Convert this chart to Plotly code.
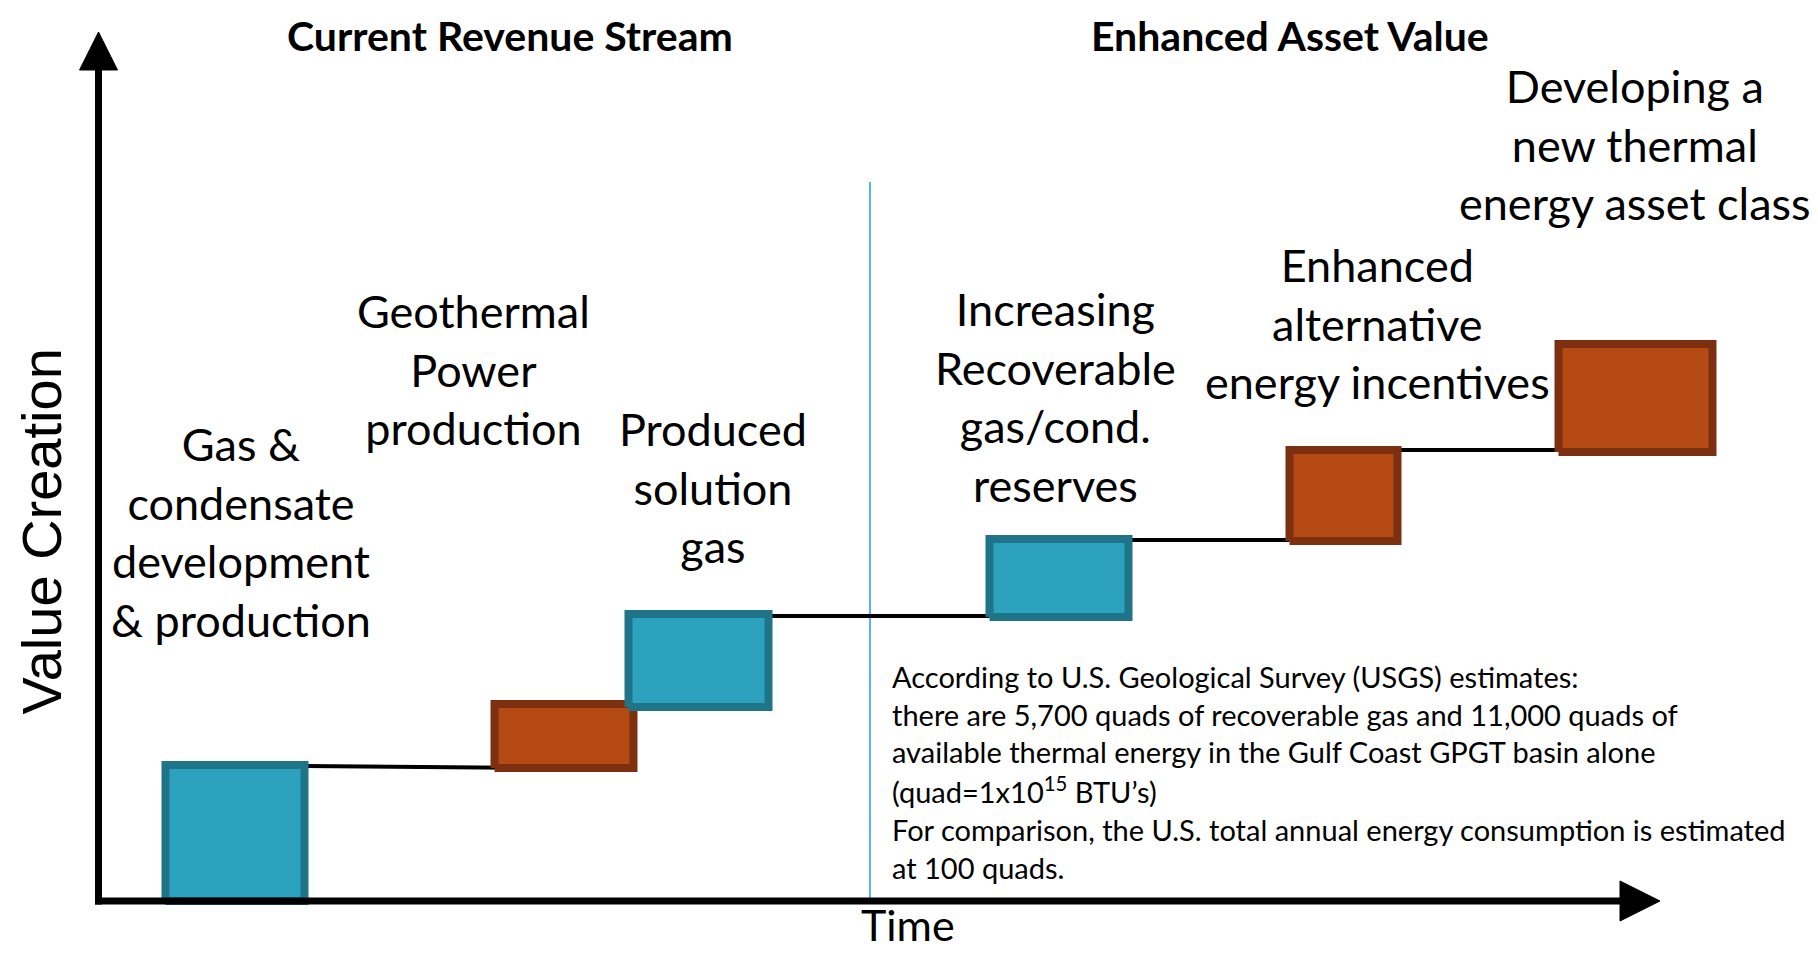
import plotly.graph_objects as go

# ---- data (x = time units, y = value units; origin at axes corner) ----
box_labels = ["Gas & condensate", "Geothermal power", "Produced solution gas",
              "Recoverable reserves", "Alt. energy incentives", "Thermal asset class"]
box_x0 = [67, 396, 530, 891, 1191, 1460]
box_x1 = [206, 535, 670, 1030, 1299, 1614]
box_y0 = [0, 133, 194, 284, 360, 449]
box_y1 = [136, 197, 287, 362, 451, 557]
box_kind = ["blue", "orange", "blue", "blue", "orange", "orange"]

conn_x0 = [206, 670, 1030, 1299]
conn_x1 = [535, 891, 1191, 1460]
conn_y0 = [135, 285, 361, 451]
conn_y1 = [132, 285, 361, 451]

label_texts = [
    "Gas &<br>condensate<br>development<br>& production",
    "Geothermal<br>Power<br>production",
    "Produced<br>solution<br>gas",
    "Increasing<br>Recoverable<br>gas/cond.<br>reserves",
    "Enhanced<br>alternative<br>energy incentives",
    "Developing a<br>new thermal<br>energy asset class",
]
label_x = [142.5, 374.5, 614.5, 956.5, 1278.5, 1536.5]
label_y = [369, 532, 414, 504, 577.5, 757]

note_lines = [
    "According to U.S. Geological Survey (USGS) estimates:",
    "there are 5,700 quads of recoverable gas and 11,000 quads of",
    "available thermal energy in the Gulf Coast GPGT basin alone",
    "(quad=1x10<sup>15</sup> BTU\u2019s)",
    "For comparison, the U.S. total annual energy consumption is estimated",
    "at 100 quads.",
]
note_x = 791.5
note_y = [225, 187, 150, 111, 72, 34]

section_titles = ["Current Revenue Stream", "Enhanced Asset Value"]
section_x = [411.5, 1191.5]
section_y = 866

divider_x = 771.5
divider_top = 719
y_axis_top = 869
x_axis_end = 1561.5

FILL = {"blue": "#2CA2BF", "orange": "#B54A15"}
EDGE = {"blue": "#1F7489", "orange": "#7D3010"}
FONT = "Lato, 'Open Sans', sans-serif"

fig = go.Figure()

# connectors
for a, b, c, d in zip(conn_x0, conn_x1, conn_y0, conn_y1):
    fig.add_trace(go.Scatter(x=[a, b], y=[c, d], mode="lines",
                             line=dict(color="black", width=4),
                             hoverinfo="skip", showlegend=False))

# boxes
for name, a, b, c, d, k in zip(box_labels, box_x0, box_x1, box_y0, box_y1, box_kind):
    fig.add_trace(go.Scatter(x=[a, b, b, a, a], y=[c, c, d, d, c], mode="lines",
                             fill="toself", fillcolor=FILL[k],
                             line=dict(color=EDGE[k], width=8),
                             name=name, showlegend=False))

shapes = []
# divider
shapes.append(dict(type="line", x0=divider_x, x1=divider_x, y0=0, y1=divider_top,
                   line=dict(color="#18A4D8", width=1.5), layer="below"))
# axes
shapes.append(dict(type="line", x0=0, x1=0, y0=-3.5, y1=y_axis_top - 36,
                   line=dict(color="black", width=7)))
shapes.append(dict(type="line", x0=-3.5, x1=x_axis_end - 38, y0=0, y1=0,
                   line=dict(color="black", width=7)))
shapes.append(dict(type="path",
                   path=f"M -19 {y_axis_top-38} L 19 {y_axis_top-38} L 0 {y_axis_top} Z",
                   fillcolor="black", line=dict(color="black", width=1)))
shapes.append(dict(type="path",
                   path=f"M {x_axis_end-40} -20 L {x_axis_end-40} 20 L {x_axis_end} 0 Z",
                   fillcolor="black", line=dict(color="black", width=1)))

ann = []
for t, x in zip(section_titles, section_x):
    ann.append(dict(x=x, y=section_y, text=f"<b>{t}</b>", showarrow=False,
                    xanchor="center", yanchor="middle", borderpad=0,
                    font=dict(family=FONT, size=41, color="black")))
for t, x, y in zip(label_texts, label_x, label_y):
    ann.append(dict(x=x, y=y, text=t, showarrow=False, xanchor="center",
                    yanchor="middle", align="center",
                    font=dict(family=FONT, size=45, color="black")))
for t, y in zip(note_lines, note_y):
    ann.append(dict(x=note_x, y=y, text=t, showarrow=False, xanchor="left",
                    yanchor="middle", align="left",
                    font=dict(family=FONT, size=29, color="black")))
ann.append(dict(x=809.5, y=-23, text="Time", showarrow=False,
                font=dict(family=FONT, size=43, color="black")))
ann.append(dict(x=-58, y=369, text="Value Creation", showarrow=False,
                textangle=-90, borderpad=0,
                font=dict(family="Liberation Sans, Arial, sans-serif", size=56, color="black")))

fig.update_layout(
    width=1802, height=959,
    margin=dict(l=0, r=0, t=0, b=0),
    paper_bgcolor="white", plot_bgcolor="white",
    xaxis=dict(range=[-90.5, 1711.5], visible=False, fixedrange=True),
    yaxis=dict(range=[-66, 893], visible=False, fixedrange=True),
    shapes=shapes, annotations=ann,
)

fig.write_html("out.html")
